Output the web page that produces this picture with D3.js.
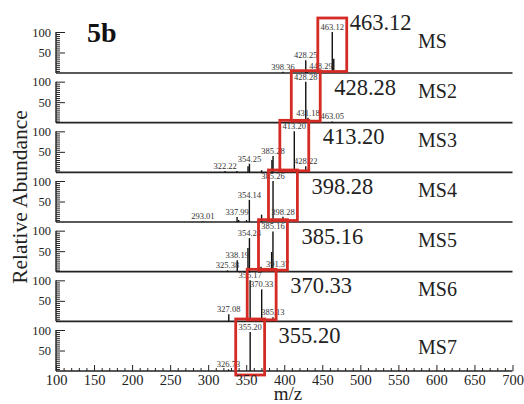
<!DOCTYPE html>
<html>
<head>
<meta charset="utf-8">
<script src="https://cdn.jsdelivr.net/npm/d3@7"></script>
<style>
  html, body { margin: 0; padding: 0; background: #fff; }
  #chart { width: 524px; height: 404px; }
  text { font-family: 'Liberation Serif', 'Times New Roman', serif; }
</style>
</head>
<body>
<div id="chart"></div>
<script>
// Stage names and the precursor ion picked out (red box) in each stage.
const stageNames = ["MS", "MS2", "MS3", "MS4", "MS5", "MS6", "MS7"];
const precursorMz = [463.12, 428.28, 413.20, 398.28, 385.16, 370.33, 355.20];

// Peaks per stage: [m/z, relative abundance %, labelled?]
const peaksMS = [[398.36, 3, 1], [428.25, 31, 1], [430.2, 6, 0], [448.29, 5, 1], [463.12, 100, 1], [465.1, 35, 0]];
const peaksMS2 = [[428.28, 100, 1], [431.18, 12, 1], [433.0, 7, 0], [463.05, 3, 1]];
const peaksMS3 = [[322.22, 3, 1], [337.8, 3, 0], [352.4, 15, 0], [354.25, 21, 1], [370.2, 5, 0],
                  [383.8, 30, 0], [385.28, 40, 1], [413.20, 100, 1], [428.22, 15, 1]];
const peaksMS4 = [[293.01, 2, 1], [337.99, 12, 1], [340.1, 5, 0], [350.4, 5, 0], [354.14, 54, 1],
                  [370.2, 18, 0], [385.26, 100, 1], [398.28, 13, 1]];
const peaksMS5 = [[325.38, 3, 1], [338.19, 28, 1], [352.3, 58, 0], [354.24, 82, 1], [369.5, 12, 0],
                  [371.5, 6, 0], [383.4, 48, 0], [385.16, 98, 1], [391.37, 6, 1]];
const peaksMS6 = [[327.08, 17, 1], [355.17, 100, 1], [370.33, 78, 1], [385.13, 10, 1]];
const peaksMS7 = [[326.73, 4, 1], [355.20, 95, 1]];
const spectra = [peaksMS, peaksMS2, peaksMS3, peaksMS4, peaksMS5, peaksMS6, peaksMS7];

const xTicksMajor = d3.range(100, 701, 50);
const xTicksMinor = d3.range(100, 701, 10).filter(v => v % 50);
const yTicksMajor = [50, 100];
const yTicksMinor = d3.range(5, 100, 5).filter(v => v % 50);

const width = 524;
const height = 404;
const boxColor = "#d52b25";
const ink = "#222";
const serif = "'Liberation Serif', 'Times New Roman', serif";

const svg = d3.select("#chart")
    .append("svg")
    .attr("width", width)
    .attr("height", height)
    .attr("font-family", serif);

const x = d3.scaleLinear().domain([100, 700]).range([56, 512.5]);
const baseline = d3.scaleLinear().domain([0, stageNames.length - 1]).range([73, 371]);
const last = stageNames.length - 1;

spectra.forEach((peaks, i) => {
    const b = baseline(i);
    const y = d3.scaleLinear().domain([0, 100]).range([b, b - 41]);
    const g = svg.append("g");

    // minor y ticks (pointing inwards)
    g.append("g")
        .attr("transform", `translate(${x(100)},0)`)
        .call(d3.axisLeft(y).tickValues(yTicksMinor).tickSize(-4).tickFormat(""))
        .call(a => a.select(".domain").remove());

    // major y ticks with labels
    g.append("g")
        .attr("transform", `translate(${x(100)},0)`)
        .call(d3.axisLeft(y).tickValues(yTicksMajor).tickSize(-9).tickPadding(5))
        .attr("font-family", serif)
        .call(a => a.select(".domain").remove())
        .call(a => a.selectAll("text")
            .attr("font-size", 12.5)
            .attr("fill", ink));

    g.selectAll(".tick line").attr("stroke", ink);

    // left spine and baseline
    g.append("line")
        .attr("x1", x(100)).attr("x2", x(100))
        .attr("y1", y(0)).attr("y2", y(100))
        .attr("stroke", ink).attr("stroke-width", 1.4);
    g.append("line")
        .attr("x1", x(100)).attr("x2", x(700))
        .attr("y1", b).attr("y2", b)
        .attr("stroke", ink).attr("stroke-width", 1.6);

    // peaks
    g.selectAll(".peak")
        .data(peaks)
        .join("line")
        .attr("class", "peak")
        .attr("x1", d => x(d[0])).attr("x2", d => x(d[0]))
        .attr("y1", b).attr("y2", d => y(d[1]))
        .attr("stroke", "#111")
        .attr("stroke-width", 1.4);

    // peak labels
    g.selectAll(".plabel")
        .data(peaks.filter(d => d[2]))
        .join("text")
        .attr("class", "plabel")
        .attr("x", d => x(d[0]))
        .attr("y", d => y(d[1]) - 2)
        .attr("text-anchor", "middle")
        .attr("font-size", 8.5)
        .attr("fill", "#333")
        .text(d => d[0].toFixed(2));

    // red box round the precursor
    const pre = precursorMz[i];
    const boxTop = i === 0 ? b - 55 : b - 52;
    const boxBottom = i === last ? b + 4 : b - 1.5;
    g.append("rect")
        .attr("x", x(pre - 19))
        .attr("y", boxTop)
        .attr("width", x(pre + 19) - x(pre - 19))
        .attr("height", boxBottom - boxTop)
        .attr("fill", "none")
        .attr("stroke", boxColor)
        .attr("stroke-width", 2.8);

    // precursor m/z, big
    g.append("text")
        .attr("x", x(pre + 19) + (i === 0 ? 3 : 14))
        .attr("y", i === 0 ? b - 43 : b - 28)
        .attr("font-size", 22.5)
        .attr("fill", ink)
        .text(pre.toFixed(2));

    // stage name
    g.append("text")
        .attr("x", 418)
        .attr("y", i === last ? b - 17 : b - 25)
        .attr("font-size", 20)
        .attr("fill", ink)
        .text(stageNames[i]);
});

// bottom m/z axis, ticks pointing up
const axisY = baseline(last);
svg.append("g")
    .attr("transform", `translate(0,${axisY})`)
    .call(d3.axisBottom(x).tickValues(xTicksMinor).tickSize(-3).tickFormat(""))
    .call(a => a.select(".domain").remove());
svg.append("g")
    .attr("transform", `translate(0,${axisY})`)
    .call(d3.axisBottom(x).tickValues(xTicksMajor).tickSize(-6).tickPadding(3.5))
    .attr("font-family", serif)
    .call(a => a.select(".domain").remove())
    .call(a => a.selectAll("text")
        .attr("font-size", 14.5)
        .attr("fill", ink));
svg.selectAll(".tick line").attr("stroke", ink);

// titles
svg.append("text")
    .attr("x", 87)
    .attr("y", 42)
    .attr("font-size", 28)
    .attr("font-weight", "bold")
    .attr("fill", "#111")
    .text("5b");

svg.append("text")
    .attr("transform", "translate(27,197) rotate(-90)")
    .attr("text-anchor", "middle")
    .attr("font-size", 21.5)
    .attr("fill", ink)
    .text("Relative Abundance");

svg.append("text")
    .attr("x", 288)
    .attr("y", 399.5)
    .attr("text-anchor", "middle")
    .attr("font-size", 19)
    .attr("fill", ink)
    .text("m/z");
</script>
</body>
</html>
